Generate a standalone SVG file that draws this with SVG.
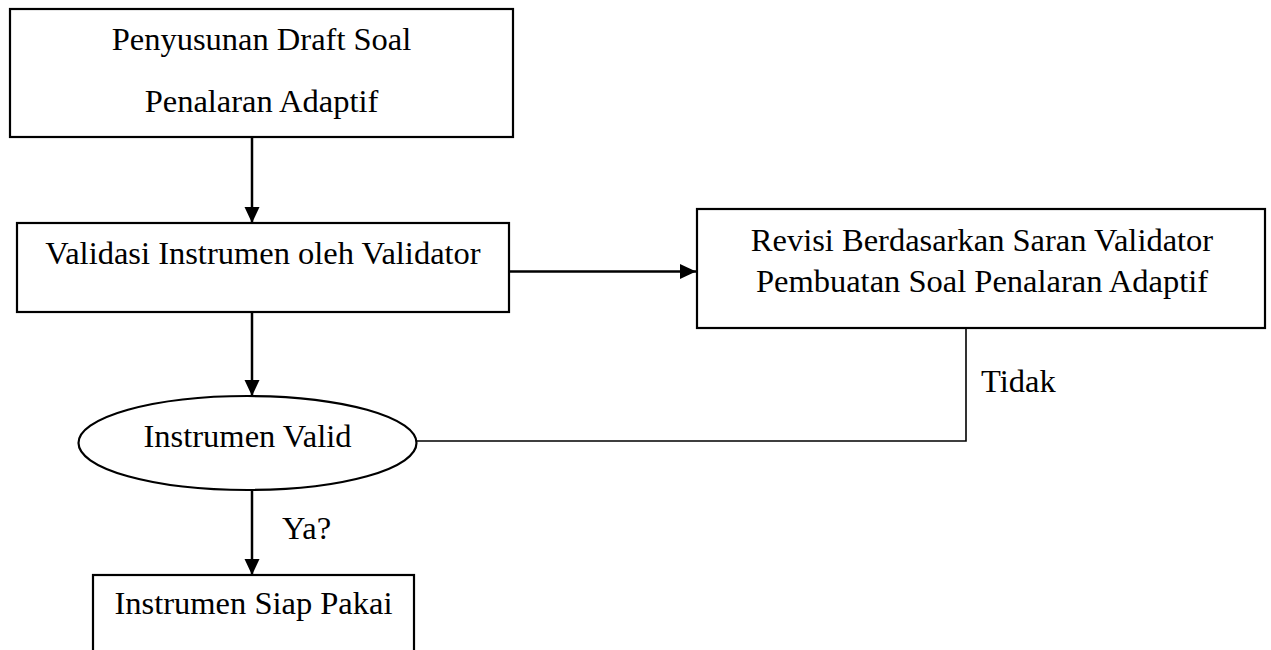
<svg xmlns="http://www.w3.org/2000/svg" width="1271" height="650" viewBox="0 0 1271 650">
<style>
.box{fill:#fff;stroke:#000;stroke-width:2.2}
.t{font-family:"Liberation Serif","Times New Roman",serif;font-size:32.5px;fill:#000}
.c{text-anchor:middle}
.ln{fill:none;stroke:#000;stroke-width:2.5}
.fb{fill:none;stroke:#000;stroke-width:1.6}
</style>
<defs>
<marker id="ah" markerUnits="userSpaceOnUse" markerWidth="18" markerHeight="18" viewBox="0 0 18 18" refX="16" refY="9" orient="auto">
<path d="M0,1.5 L16,9 L0,16.5 Z" fill="#000"/>
</marker>
</defs>
<rect width="1271" height="650" fill="#fff"/>
<g id="connectors">
<line class="ln" x1="252" y1="137" x2="252" y2="223" marker-end="url(#ah)"/>
<line class="ln" x1="509" y1="271.5" x2="696" y2="271.5" marker-end="url(#ah)"/>
<line class="ln" x1="252" y1="312" x2="252" y2="396" marker-end="url(#ah)"/>
<polyline class="fb" points="966,328 966,441 416.5,441"/>
<line class="ln" x1="252" y1="490" x2="252" y2="575" marker-end="url(#ah)"/>
<text class="t" x="981" y="392">Tidak</text>
<text class="t" x="282" y="539">Ya?</text>
</g>
<g id="node-draft">
<rect class="box" x="10" y="9" width="503" height="128"/>
<text class="t c" x="261.5" y="50">Penyusunan Draft Soal</text>
<text class="t c" x="261.5" y="112">Penalaran Adaptif</text>
</g>
<g id="node-validasi">
<rect class="box" x="17" y="223" width="492" height="89"/>
<text class="t c" x="263" y="264">Validasi Instrumen oleh Validator</text>
</g>
<g id="node-revisi">
<rect class="box" x="697" y="209" width="568" height="119"/>
<text class="t c" x="982" y="251">Revisi Berdasarkan Saran Validator</text>
<text class="t c" x="982" y="292">Pembuatan Soal Penalaran Adaptif</text>
</g>
<g id="node-valid">
<ellipse class="box" cx="247.5" cy="443" rx="169" ry="47"/>
<text class="t c" x="247.5" y="447">Instrumen Valid</text>
</g>
<g id="node-siap">
<rect class="box" x="93" y="575" width="321" height="90"/>
<text class="t c" x="253.5" y="614">Instrumen Siap Pakai</text>
</g>
</svg>
